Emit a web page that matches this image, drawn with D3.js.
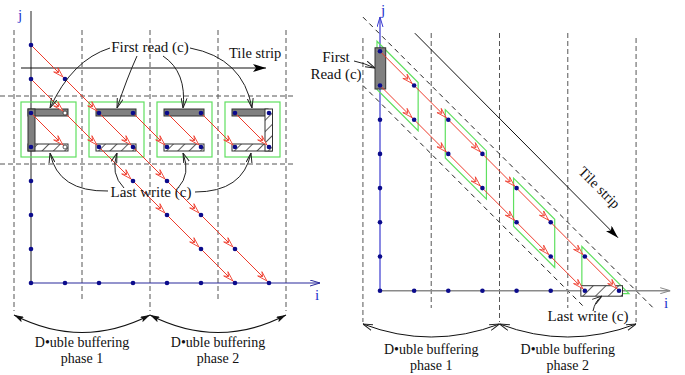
<!DOCTYPE html>
<html>
<head>
<meta charset="utf-8">
<script src="https://cdn.jsdelivr.net/npm/d3@7"></script>
<style>
  body { margin: 0; background: #fff; }
  text { font-family: "Liberation Serif", "Times New Roman", serif; fill: #111; }
</style>
</head>
<body>
<svg id="chart" width="685" height="375"></svg>
<script>
// grid of iteration points (i, j)
const gridSteps = [0, 1, 2, 3, 4, 5, 6, 7];
const tileEdges = [-0.5, 1.5, 3.5, 5.5, 7.5];
const rowEdges = [5.5, 3.5];
const tileStarts = [0, 2, 4, 6];
const tileRows = [5, 4];
const chainA = [[0, 7], [1, 6], [2, 5], [3, 4], [4, 3], [5, 2], [6, 1], [7, 0]];
const chainB = [[0, 6], [1, 5], [2, 4], [3, 3], [4, 2], [5, 1], [6, 0]];
const rowArrowFrom = [0, 3, 4, 5, 6];          // extra (i,5) -> (i+1,4) arrows, left panel
const hollowLeft = [[1, 5], [1, 4]];
const bandOffsets = [7.5, 5.5];               // dashed strip borders, i + j = c
const tileStrip = [[1.02, 7.53], [6.97, 1.55]];
const phaseLabels = ['phase 1', 'phase 2'];

const RED = '#ee3b2b', NAVY = '#0b0b8c', GREEN = '#5fe05f', DASH = '#555';

const svg = d3.select('#chart');
const defs = svg.append('defs');

function hatch(id, step) {
    const p = defs.append('pattern').attr('id', id)
        .attr('patternUnits', 'userSpaceOnUse')
        .attr('width', step).attr('height', step)
        .attr('patternTransform', 'rotate(45)');
    p.append('rect').attr('width', step).attr('height', step).attr('fill', '#fff');
    p.append('line').attr('x1', 0).attr('y1', 0).attr('x2', 0).attr('y2', step)
        .attr('stroke', '#333').attr('stroke-width', 1.6);
}
hatch('hatchL', 8);
hatch('hatchR', 9);

function marker(id, d, w, h, fill, stroke, orient) {
    defs.append('marker').attr('id', id)
        .attr('viewBox', `0 0 ${w} ${h}`)
        .attr('refX', w).attr('refY', h / 2)
        .attr('markerWidth', w).attr('markerHeight', h)
        .attr('markerUnits', 'userSpaceOnUse')
        .attr('orient', orient || 'auto')
        .append('path').attr('d', d)
        .attr('fill', fill).attr('stroke', stroke).attr('stroke-width', 1);
}
marker('openBlack', 'M0,0.5 L10,3.5 L0,6.5', 10, 7, 'none', '#222');
marker('solidBlack', 'M0,0 L13,4 L0,8 L3,4 Z', 13, 8, '#000', 'none');
marker('openNavy', 'M0,0.5 L10,3.5 L0,6.5', 10, 7, 'none', '#2b2b9b');
marker('openBlue', 'M0,0.5 L10,3.5 L0,6.5', 10, 7, 'none', '#3a3ad0');
marker('openGray', 'M0,0.5 L10,3.5 L0,6.5', 10, 7, 'none', '#888');
marker('braceSolid', 'M0,0 L10,3 L0,6 L2,3 Z', 10, 6, '#111', 'none', 'auto-start-reverse');
marker('braceOpen', 'M0,0.5 L10,3.5 L0,6.5', 10, 7, 'none', '#222', 'auto-start-reverse');

function redArrows(g, x, y, segs) {
    segs.forEach(([a, b]) => {
        const x0 = x(a[0]), y0 = y(a[1]), x1 = x(b[0]), y1 = y(b[1]);
        g.append('line').attr('x1', x0).attr('y1', y0).attr('x2', x1).attr('y2', y1)
            .attr('stroke', RED).attr('stroke-width', 1);
        const len = Math.hypot(x1 - x0, y1 - y0), ux = (x1 - x0) / len, uy = (y1 - y0) / len;
        const tx = x1 - ux * 3, ty = y1 - uy * 3, L = 10, W = 3;
        const bx = tx - ux * L, by = ty - uy * L;
        const nx = tx - ux * L * 0.6, ny = ty - uy * L * 0.6;
        g.append('path')
            .attr('d', `M${bx - uy * W},${by + ux * W} L${tx},${ty} L${bx + uy * W},${by - ux * W} L${nx},${ny} Z`)
            .attr('fill', '#fff').attr('stroke', RED).attr('stroke-width', 0.9);
    });
}

function dots(g, x, y, pts, hollow) {
    g.selectAll(null).data(pts).join('circle')
        .attr('cx', d => x(d[0])).attr('cy', d => y(d[1])).attr('r', hollow ? 2 : 2.3)
        .attr('fill', hollow ? '#fff' : NAVY)
        .attr('stroke', hollow ? '#333' : 'none').attr('stroke-width', 0.8);
}

function uniq(list) {
    const seen = new Set();
    return list.filter(p => { const k = p.join(','); if (seen.has(k)) return false; seen.add(k); return true; });
}

// two-line label kept in one text element
function doubleLabel(x, y, phase) {
    const t = svg.append('text').attr('x', x).attr('y', y).attr('text-anchor', 'middle').attr('font-size', 14);
    t.append('tspan').attr('x', x).text('D\u2022uble buffering');
    t.append('tspan').attr('x', x).attr('dy', 15.6).text(phase);
}

// ---------------- left panel ----------------
const xL = d3.scaleLinear().domain([0, 7]).range([31, 269]);
const yL = d3.scaleLinear().domain([0, 7]).range([283, 45]);
const left = svg.append('g');

// dashed tile grid
left.selectAll('.vd').data(tileEdges).join('line')
    .attr('x1', d => xL(d)).attr('x2', d => xL(d))
    .attr('y1', 30).attr('y2', (d, i) => i % 2 === 0 ? 311 : 300)
    .attr('stroke', DASH).attr('stroke-dasharray', '5,3');
left.selectAll('.hd').data(rowEdges).join('line')
    .attr('x1', 0).attr('x2', 293)
    .attr('y1', d => yL(d)).attr('y2', d => yL(d))
    .attr('stroke', DASH).attr('stroke-dasharray', '5,3');

// axes
left.append('line').attr('x1', xL(0)).attr('x2', xL(0)).attr('y1', yL(0)).attr('y2', yL(8))
    .attr('stroke', '#222');
left.append('line').attr('x1', xL(0)).attr('x2', xL(8.5)).attr('y1', yL(0)).attr('y2', yL(0))
    .attr('stroke', '#2b2b9b').attr('stroke-width', 1.2).attr('marker-end', 'url(#openNavy)');
svg.append('text').attr('x', 20).attr('y', 20).attr('text-anchor', 'middle')
    .attr('font-size', 15).style('fill', '#2233cc').text('j');
svg.append('text').attr('x', 317).attr('y', 300).attr('text-anchor', 'middle')
    .attr('font-size', 15).style('fill', '#2233cc').text('i');

// tile strip arrow
left.append('line').attr('x1', 21).attr('x2', 266).attr('y1', 68).attr('y2', 68)
    .attr('stroke', '#111').attr('marker-end', 'url(#solidBlack)');
svg.append('text').attr('x', 229).attr('y', 58).attr('font-size', 14.5).text('Tile strip');

// tiles
tileStarts.forEach((a, k) => {
    const g = left.append('g');
    g.append('rect').attr('x', xL(a) - 10).attr('y', yL(5) - 11)
        .attr('width', xL(a + 1) - xL(a) + 21).attr('height', yL(4) - yL(5) + 21)
        .attr('fill', 'none').attr('stroke', GREEN).attr('stroke-width', 1.2);
    const lastTile = k === tileStarts.length - 1;
    g.append('rect').attr('x', xL(a) - 3).attr('y', yL(5) - 4)
        .attr('width', xL(a + 1) - xL(a) + (lastTile ? 2 : 6)).attr('height', 7)
        .attr('fill', '#808080').attr('stroke', '#333');
    g.append('rect').attr('x', xL(a) - 3).attr('y', yL(4) - 3)
        .attr('width', xL(a + 1) - xL(a) + 6).attr('height', 7)
        .attr('fill', 'url(#hatchL)').attr('stroke', '#333');
    if (k === 0) {
        g.append('rect').attr('x', xL(a) - 3).attr('y', yL(5) - 4)
            .attr('width', 7).attr('height', yL(4) - yL(5) + 8)
            .attr('fill', '#808080').attr('stroke', '#333');
    }
    if (lastTile) {
        g.append('rect').attr('x', xL(a + 1) - 4).attr('y', yL(5) - 4)
            .attr('width', 7.5).attr('height', yL(4) - yL(5) + 8)
            .attr('fill', 'url(#hatchL)').attr('stroke', '#333');
    }
});

// points and dependences
const leftPts = uniq([
    ...gridSteps.map(j => [0, j]), ...gridSteps.map(i => [i, 0]),
    ...tileRows.flatMap(j => gridSteps.map(i => [i, j])),
    ...chainA, ...chainB
]).filter(p => !hollowLeft.some(h => h[0] === p[0] && h[1] === p[1]));
const leftSegs = [...d3.pairs(chainA), ...d3.pairs(chainB),
    ...rowArrowFrom.map(i => [[i, 5], [i + 1, 4]])];
redArrows(left, xL, yL, leftSegs);
dots(left, xL, yL, leftPts, false);
dots(left, xL, yL, hollowLeft, true);

// annotations
svg.append('text').attr('x', 150).attr('y', 52).attr('text-anchor', 'middle')
    .attr('font-size', 15).text('First read (c)');
const readCurves = [
    'M110,48 Q72,60 50,108', 'M137,56 Q127,78 117,108',
    'M163,56 Q187,72 183,108', 'M190,48 Q243,58 252,108'
];
svg.selectAll('.rc').data(readCurves).join('path').attr('d', d => d)
    .attr('fill', 'none').attr('stroke', '#222').attr('marker-end', 'url(#openBlack)');
svg.append('text').attr('x', 151).attr('y', 197).attr('text-anchor', 'middle')
    .attr('font-size', 15).text('Last write (c)');
const writeCurves = [
    'M108,191 Q58,192 50,153', 'M124,188 Q110,174 117,153',
    'M178,188 Q191,174 183,153', 'M195,192 Q243,192 251,153'
];
svg.selectAll('.wc').data(writeCurves).join('path').attr('d', d => d)
    .attr('fill', 'none').attr('stroke', '#222').attr('marker-end', 'url(#openBlack)');

// double buffering braces
[[tileEdges[0], tileEdges[2]], [tileEdges[2], tileEdges[4]]].forEach(([a, b], k) => {
    const x0 = xL(a), x1 = xL(b);
    svg.append('path').attr('d', `M${x0},315 Q${(x0 + x1) / 2},350 ${x1},315`)
        .attr('fill', 'none').attr('stroke', '#111').attr('stroke-width', 1.2)
        .attr('marker-start', 'url(#braceSolid)').attr('marker-end', 'url(#braceSolid)');
    doubleLabel((x0 + x1) / 2, 347, phaseLabels[k]);
});

// ---------------- right panel ----------------
const xR = d3.scaleLinear().domain([0, 7]).range([380, 619]);
const yR = d3.scaleLinear().domain([0, 7]).range([290.7, 51.3]);
const right = svg.append('g');

right.selectAll('.vd').data(tileEdges).join('line')
    .attr('x1', d => xR(d)).attr('x2', d => xR(d))
    .attr('y1', (d, i) => i === 0 || i === 4 ? 38 : 33)
    .attr('y2', (d, i) => i % 2 === 0 ? 322 : 308)
    .attr('stroke', DASH).attr('stroke-dasharray', '5,3');

// strip borders
right.selectAll('.band').data(bandOffsets).join('line')
    .attr('x1', xR(-0.5)).attr('y1', d => yR(d + 0.5))
    .attr('x2', d => xR(d + 0.5)).attr('y2', yR(-0.5))
    .attr('stroke', '#222').attr('stroke-dasharray', '5,4');

// tile strip direction
right.append('line')
    .attr('x1', xR(tileStrip[0][0])).attr('y1', yR(tileStrip[0][1]))
    .attr('x2', xR(tileStrip[1][0])).attr('y2', yR(tileStrip[1][1]))
    .attr('stroke', '#111').attr('marker-end', 'url(#solidBlack)');
svg.append('text').attr('transform', 'translate(596,191) rotate(45)')
    .attr('text-anchor', 'middle').attr('font-size', 14.5).text('Tile strip');

// axes
right.append('line').attr('x1', xR(0)).attr('x2', xR(0)).attr('y1', yR(0)).attr('y2', yR(8))
    .attr('stroke', '#3a3ad0').attr('stroke-width', 1.2).attr('marker-end', 'url(#openBlue)');
right.append('line').attr('x1', xR(0)).attr('x2', xR(8.5)).attr('y1', yR(0)).attr('y2', yR(0))
    .attr('stroke', '#8a8a8a').attr('stroke-width', 1.6).attr('marker-end', 'url(#openGray)');
svg.append('text').attr('x', 383).attr('y', 15).attr('text-anchor', 'middle')
    .attr('font-size', 15).style('fill', '#2233cc').text('j');
svg.append('text').attr('x', 666).attr('y', 308).attr('text-anchor', 'middle')
    .attr('font-size', 15).style('fill', '#2233cc').text('i');

// tile parallelograms
const topEdge = px => yR(7 - xR.invert(px)) - 7;
const botEdge = px => yR(6 - xR.invert(px)) + 7;
tileStarts.forEach((a, k) => {
    const xl = xR(a) - 3;
    let pts;
    if (k < tileStarts.length - 1) {
        const xr = xR(a + 1) + 4;
        pts = [[xl, topEdge(xl)], [xr, topEdge(xr)], [xr, botEdge(xr)], [xl, botEdge(xl)]];
    } else {
        const yb = yR(0) + 3;
        const xc = xR(7 - yR.invert(yb + 7));
        pts = [[xl, topEdge(xl)], [xc, yb], [xl, yb]];
    }
    right.append('polygon').attr('points', pts.map(p => p.join(',')).join(' '))
        .attr('fill', 'none').attr('stroke', GREEN).attr('stroke-width', 1.2);
});

// first read / last write buffers
right.append('rect').attr('x', xR(0) - 5).attr('y', yR(7) - 3.5)
    .attr('width', 10.7).attr('height', yR(6) - yR(7) + 7)
    .attr('fill', '#808080').attr('stroke', '#333');
right.append('rect').attr('x', xR(6) - 4).attr('y', yR(0) - 5)
    .attr('width', xR(7) - xR(6) + 7.5).attr('height', 10.5)
    .attr('fill', 'url(#hatchR)').attr('stroke', '#333');

const rightPts = uniq([
    ...gridSteps.map(j => [0, j]), ...gridSteps.map(i => [i, 0]), ...chainA, ...chainB
]);
redArrows(right, xR, yR, [...d3.pairs(chainA), ...d3.pairs(chainB)]);
dots(right, xR, yR, rightPts, false);

const fr = svg.append('text').attr('x', 336).attr('y', 62).attr('text-anchor', 'middle').attr('font-size', 15);
fr.append('tspan').attr('x', 336).text('First');
fr.append('tspan').attr('x', 336).attr('dy', 16.6).text('Read (c)');
svg.append('path').attr('d', 'M354,61 Q364,63 375,68')
    .attr('fill', 'none').attr('stroke', '#222').attr('marker-end', 'url(#openBlack)');
svg.append('text').attr('x', 588).attr('y', 321).attr('text-anchor', 'middle')
    .attr('font-size', 15).text('Last write (c)');
svg.append('path').attr('d', 'M593,311 Q595,301 602,296')
    .attr('fill', 'none').attr('stroke', '#222').attr('marker-end', 'url(#openBlack)');

[[tileEdges[0], tileEdges[2]], [tileEdges[2], tileEdges[4]]].forEach(([a, b], k) => {
    const x0 = xR(a), x1 = xR(b);
    svg.append('path').attr('d', `M${x0},324 Q${(x0 + x1) / 2},350 ${x1},324`)
        .attr('fill', 'none').attr('stroke', '#111')
        .attr('marker-start', 'url(#braceOpen)').attr('marker-end', 'url(#braceOpen)');
    doubleLabel((x0 + x1) / 2, 354, phaseLabels[k]);
});
</script>
</body>
</html>
